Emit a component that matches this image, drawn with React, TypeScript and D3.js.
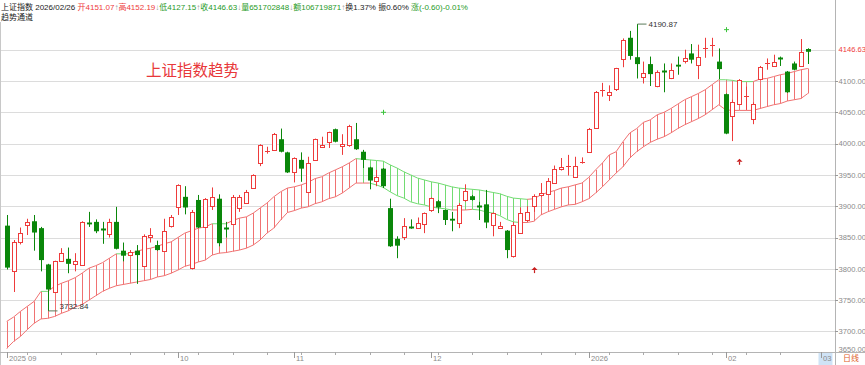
import React from "react"
import * as d3 from "d3"

// daily candles, 2025-08 end .. 2026-02-26
const opens = [
  3869, 3797, 3842, 3870, 3876, 3865, 3807, 3763, 3813, 3816,
  3807, 3806, 3874, 3875, 3864, 3856, 3875, 3829, 3823, 3829,
  3805, 3851, 3838, 3829, 3869, 3899, 3915, 3800, 3910, 3867,
  3900, 3912, 3866, 3872, 3896, 3905, 3929, 3970, 3987, 3991,
  4007, 3986, 3954, 3974, 3923, 3974, 3994, 4002, 4023, 3997,
  3998, 4007, 3987, 3962, 3939, 3960, 3897, 3848, 3852, 3867,
  3866, 3872, 3894, 3908, 3894, 3880, 3874, 3910, 3916, 3901,
  3903, 3870, 3866, 3861, 3821, 3857, 3878, 3900, 3918, 3921,
  3938, 3960, 3963, 3948, 3970, 3987, 4026, 4083, 4078, 4087,
  4135, 4169, 4138, 4106, 4127, 4091, 4116, 4104, 4126, 4131,
  4144, 4126, 4152, 4157, 4131, 4079, 4045, 4064, 4075, 4040,
  4104, 4127, 4124, 4137, 4115, 4128, 4124, 4151.07,
]
const highs = [
  3886, 3846, 3866, 3880, 3886, 3867, 3808, 3813, 3833, 3834,
  3825, 3876, 3891, 3879, 3875, 3880, 3899, 3842, 3830, 3838,
  3855, 3865, 3845, 3880, 3886, 3935, 3932, 3894, 3918, 3913,
  3930, 3919, 3875, 3918, 3918, 3926, 3951, 3999, 3995, 4017,
  4024, 3987, 3978, 3986, 3979, 4008, 4011, 4019, 4024, 4015,
  4030, 4033, 3990, 3963, 3958, 3961, 3912, 3852, 3881, 3879,
  3882, 3890, 3914, 3910, 3895, 3891, 3905, 3935, 3918, 3907,
  3926, 3890, 3875, 3862, 3875, 3898, 3900, 3919, 3937, 3945,
  3965, 3977, 3982, 3979, 3978, 4025, 4084, 4097, 4093, 4121,
  4168, 4180, 4190.87, 4131, 4139, 4117, 4128, 4128, 4139, 4150,
  4159, 4158, 4169, 4169, 4152, 4080, 4070, 4103, 4091, 4066,
  4124, 4136, 4142, 4139, 4116, 4131, 4167, 4152.19,
]
const lows = [
  3799, 3763, 3839, 3854, 3829, 3796, 3732.84, 3762, 3811, 3793,
  3796, 3805, 3867, 3857, 3840, 3850, 3831, 3812, 3821, 3776,
  3804, 3842, 3829, 3828, 3866, 3886, 3887, 3799, 3865, 3866,
  3894, 3836, 3850, 3871, 3891, 3904, 3928, 3964, 3984, 3990,
  3986, 3953, 3938, 3939, 3922, 3973, 3993, 3993, 4002, 3982,
  3995, 3990, 3961, 3927, 3932, 3929, 3835, 3817, 3846, 3864,
  3864, 3857, 3891, 3889, 3870, 3860, 3865, 3907, 3909, 3878,
  3865, 3852, 3865, 3817, 3818, 3856, 3875, 3891, 3915, 3918,
  3937, 3957, 3949, 3947, 3968, 3985, 4025, 4075, 4068, 4084,
  4122, 4134, 4104, 4096, 4092, 4090, 4082, 4103, 4110, 4128,
  4128, 4103, 4137, 4139, 4103, 4015, 4004, 4063, 4054, 4031,
  4103, 4118, 4123, 4124, 4081, 4117, 4123, 4127.15,
]
const closes = [
  3802, 3843, 3857, 3875, 3858, 3814, 3767, 3812, 3826, 3808,
  3812, 3875, 3871, 3860, 3862, 3875, 3832, 3821, 3827, 3822,
  3853, 3854, 3830, 3861, 3883, 3934, 3898, 3890, 3866, 3912,
  3915, 3841, 3864, 3915, 3914, 3923, 3950, 3998, 3988, 4016,
  3987, 3954, 3977, 3960, 3969, 4007, 3997, 4018, 4003, 4000,
  4028, 3991, 3974, 3941, 3946, 3932, 3836, 3837, 3869, 3865,
  3874, 3889, 3913, 3898, 3878, 3877, 3902, 3925, 3910, 3899,
  3874, 3889, 3869, 3830, 3870, 3889, 3890, 3916, 3921, 3941,
  3960, 3963, 3965, 3965, 3971, 4023, 4083, 4085, 4082, 4120,
  4166, 4140, 4127, 4112, 4111, 4114, 4114, 4117, 4123, 4136,
  4134, 4139, 4153, 4158, 4119, 4016, 4067, 4102, 4076, 4064,
  4123, 4128, 4131, 4135, 4082, 4118, 4147, 4146.63,
]

// trend channel
const bandUpper = [
  3716, 3723, 3732, 3740, 3748, 3764, 3764, 3772, 3777, 3781,
  3786, 3793, 3801, 3805, 3810, 3817, 3824, 3824, 3824, 3828,
  3831, 3833, 3836, 3840, 3843, 3850, 3857, 3861, 3865, 3867,
  3872, 3872, 3872, 3877, 3881, 3883, 3889, 3897, 3905, 3915,
  3923, 3929, 3931, 3934, 3938, 3944, 3947, 3953, 3958, 3963,
  3969, 3976, 3975, 3974, 3973, 3972, 3966, 3961, 3955, 3950,
  3945, 3942, 3939, 3937, 3934, 3931, 3929, 3928, 3927, 3926,
  3924, 3922, 3920, 3916, 3913, 3912, 3911, 3912, 3918, 3922,
  3925, 3929, 3931, 3934, 3937, 3946, 3958, 3969, 3982, 3987,
  4003, 4017, 4024, 4034, 4038, 4046, 4050, 4056, 4063, 4070,
  4075, 4080, 4086, 4094, 4102, 4102, 4101, 4099, 4099, 4099,
  4103, 4104, 4107, 4110, 4112, 4115, 4118, 4120,
]
const bandLower = [
  3673, 3684, 3692, 3703, 3713, 3720, 3721, 3724, 3729, 3733,
  3739, 3743, 3750, 3757, 3764, 3769, 3773, 3775, 3777, 3779,
  3781, 3783, 3787, 3789, 3793, 3798, 3804, 3807, 3811, 3814,
  3822, 3825, 3826, 3828, 3830, 3833, 3838, 3846, 3857, 3865,
  3878, 3890, 3893, 3897, 3899, 3904, 3907, 3912, 3915, 3921,
  3929, 3937, 3937, 3937, 3934, 3930, 3923, 3917, 3913, 3907,
  3904, 3902, 3899, 3897, 3896, 3894, 3894, 3894, 3895, 3894,
  3891, 3889, 3885, 3879, 3875, 3874, 3874, 3876, 3886, 3891,
  3895, 3899, 3902, 3903, 3907, 3912, 3921, 3931, 3942, 3953,
  3963, 3977, 3987, 3995, 4002, 4007, 4011, 4017, 4024, 4030,
  4035, 4040, 4046, 4054, 4062, 4054, 4053, 4053, 4053, 4053,
  4056, 4059, 4062, 4064, 4068, 4070, 4072, 4080,
]
const downFrom = 52
const downTo = 76

const sellIdx = [55, 105]
const sellVal = [4050, 4182]
const buyIdx = [77, 107]
const buyVal = [3798, 3971]

const monthTickIdx = [0, 25, 42, 62, 85, 105, 119]
const monthLabels = ["2025 09", "10", "11", "12", "2026", "02", "03"]
const yTicks = [3700, 3750, 3800, 3850, 3900, 3950, 4000, 4050, 4100, 4150]

const RED = "#ee3b3b"
const GREEN = "#0a870a"
const BAND_RED = "#f07272"
const BAND_GREEN = "#72dc72"
const FONT = "'Liberation Sans', 'Noto Sans CJK SC', sans-serif"

export default function App() {
  const width = 865
  const height = 365
  const plotRight = 835
  const axisY = 352

  const x = d3.scaleLinear().domain([0, opens.length - 1]).range([6.7, 807.8])
  const y = d3.scaleLinear().domain([3668.8, 4197.4]).range([351, 20])
  const cx = (i: number) => Math.round(x(i)) + 0.5

  const segColor = (vals: number[], i: number, upper: boolean) => {
    const down = i >= downFrom - 1 && i <= downTo - 1
    if (down) return vals[i + 1] >= vals[i] ? BAND_RED : BAND_GREEN
    if (upper && vals[i + 1] <= vals[i]) return BAND_GREEN
    return BAND_RED
  }

  const bandLines = (vals: number[], upper: boolean) =>
    vals.slice(0, -1).map((v, i) => (
      <line
        key={(upper ? "u" : "l") + i}
        x1={x(i)}
        y1={y(v)}
        x2={x(i + 1)}
        y2={y(vals[i + 1])}
        stroke={segColor(vals, i, upper)}
        strokeWidth={1}
      />
    ))

  const hi = 92
  const lo = 6

  return (
    <div>
      <style>{`body{margin:0}`}</style>
      <svg width={width} height={height} style={{ display: "block", background: "#fff" }}>
        {/* header */}
        <text x={1} y={10} fontSize={8} fontFamily={FONT} fill="#222">
          <tspan>上证指数 2026/02/26 </tspan>
          <tspan fill={RED}>开4151.07</tspan>
          <tspan fill="#999">↑</tspan>
          <tspan fill={RED}>高4152.19</tspan>
          <tspan fill="#999">↓</tspan>
          <tspan fill="#1f9a1f">低4127.15</tspan>
          <tspan fill="#999">↑</tspan>
          <tspan fill="#1f9a1f">收4146.63</tspan>
          <tspan fill="#999">↓</tspan>
          <tspan fill="#1f9a1f">量651702848</tspan>
          <tspan fill="#999">↓</tspan>
          <tspan fill="#1f9a1f">额106719871</tspan>
          <tspan fill="#999">↑</tspan>
          <tspan>换1.37% 振0.60% </tspan>
          <tspan fill="#1f9a1f">涨(-0.60)-0.01%</tspan>
        </text>
        <text x={1} y={20} fontSize={8} fontFamily={FONT} fill="#222">
          趋势通道
        </text>

        {/* grid */}
        {yTicks.map((t) => (
          <line key={t} x1={0} x2={plotRight} y1={Math.round(y(t)) + 0.5} y2={Math.round(y(t)) + 0.5} stroke="#dcdcdc" />
        ))}

        {/* frame */}
        <line x1={0.5} x2={0.5} y1={22} y2={height} stroke="#c8c8c8" />
        <line x1={plotRight + 0.5} x2={plotRight + 0.5} y1={0} y2={height} stroke="#b4b4b4" />
        <line x1={0} x2={width} y1={axisY + 0.5} y2={axisY + 0.5} stroke="#b4b4b4" />

        {/* title */}
        <text x={146} y={76} fontSize={15.5} fontFamily={FONT} fill="#e8383a">
          上证指数趋势
        </text>

        {/* channel hatches */}
        {bandUpper.map((u, i) => (
          <line
            key={"h" + i}
            x1={cx(i)}
            x2={cx(i)}
            y1={y(u)}
            y2={y(bandLower[i])}
            stroke={i >= downFrom && i <= downTo ? BAND_GREEN : BAND_RED}
            strokeWidth={1}
          />
        ))}
        {bandLines(bandUpper, true)}
        {bandLines(bandLower, false)}

        {/* candles */}
        {opens.map((o, i) => {
          const c = closes[i]
          const up = c >= o
          const col = up ? RED : GREEN
          const xi = cx(i)
          const top = y(Math.max(o, c))
          const bot = y(Math.min(o, c))
          const h = bot - top
          return (
            <g key={"c" + i}>
              <line x1={xi} x2={xi} y1={y(highs[i])} y2={y(lows[i])} stroke={col} strokeWidth={1} />
              {h < 1.5 ? (
                <line x1={xi - 2.5} x2={xi + 2.5} y1={Math.round(top) + 0.5} y2={Math.round(top) + 0.5} stroke={col} strokeWidth={up ? 1 : 2} />
              ) : up ? (
                <rect x={xi - 2} y={Math.round(top) + 0.5} width={4} height={Math.round(h)} fill="#fff" stroke={col} strokeWidth={1} />
              ) : (
                <rect x={xi - 2.5} y={top} width={5} height={h} fill={col} />
              )}
            </g>
          )
        })}

        {/* extreme marks */}
        <line x1={cx(hi)} x2={cx(hi) + 9} y1={y(highs[hi])} y2={y(highs[hi])} stroke="#5a7a5a" />
        <text x={cx(hi) + 11} y={y(highs[hi]) + 3} fontSize={8} fontFamily={FONT} fill="#333">
          {highs[hi].toFixed(2)}
        </text>
        <line x1={cx(lo)} x2={cx(lo) + 9} y1={y(lows[lo])} y2={y(lows[lo])} stroke="#5a7a5a" />
        <text x={cx(lo) + 11} y={y(lows[lo]) - 1.5} fontSize={8} fontFamily={FONT} fill="#333">
          {lows[lo].toFixed(2)}
        </text>

        {/* signals */}
        {sellIdx.map((idx, k) => {
          const sx = cx(idx)
          const sy = y(sellVal[k])
          return (
            <g key={"s" + k} stroke="#3bc43b" strokeWidth={1}>
              <line x1={sx - 2.5} x2={sx + 2.5} y1={sy} y2={sy} />
              <line x1={sx} x2={sx} y1={sy - 2.5} y2={sy + 2.5} />
            </g>
          )
        })}
        {buyIdx.map((idx, k) => {
          const bx = cx(idx)
          const by = y(buyVal[k])
          return (
            <g key={"b" + k}>
              <path d={`M${bx},${by - 3} L${bx + 3},${by} L${bx - 3},${by} Z`} fill="#c81e1e" />
              <line x1={bx} x2={bx} y1={by} y2={by + 3} stroke="#c81e1e" strokeWidth={1.2} />
            </g>
          )
        })}

        {/* right axis */}
        {yTicks.slice(0, -1).map((t) => (
          <g key={"yt" + t}>
            <line x1={plotRight} x2={plotRight + 3} y1={Math.round(y(t)) + 0.5} y2={Math.round(y(t)) + 0.5} stroke="#999" />
            <text x={plotRight + 3.5} y={y(t) + 2.8} fontSize={7.6} fontFamily={FONT} fill="#8a8a8a">
              {t.toFixed(2)}
            </text>
          </g>
        ))}
        <text x={plotRight + 3.5} y={352} fontSize={7.6} fontFamily={FONT} fill="#8a8a8a">
          {(3650).toFixed(2)}
        </text>
        <text x={plotRight + 3.5} y={y(closes[closes.length - 1]) + 0.5} fontSize={7.6} fontFamily={FONT} fill={RED}>
          {closes[closes.length - 1].toFixed(2)}
        </text>

        {/* bottom axis */}
        {d3.range(3, 118, 5).map((i) => (
          <line key={"mt" + i} x1={cx(i)} x2={cx(i)} y1={axisY} y2={axisY + 3} stroke="#aaa" />
        ))}
        <rect x={x(119) - 3} y={axisY + 1} width={14} height={height - axisY - 1} fill="#cfe3f6" />
        {monthTickIdx.map((idx, k) => (
          <g key={"m" + k}>
            <line x1={cx(idx)} x2={cx(idx)} y1={axisY} y2={axisY + 6} stroke="#999" />
            <text x={cx(idx) + 1.5} y={361} fontSize={7.6} fontFamily={FONT} fill="#8a8a8a">
              {monthLabels[k]}
            </text>
          </g>
        ))}
        <text x={843} y={361} fontSize={8} fontFamily={FONT} fill="#e0602a">
          日线
        </text>
      </svg>
    </div>
  )
}
